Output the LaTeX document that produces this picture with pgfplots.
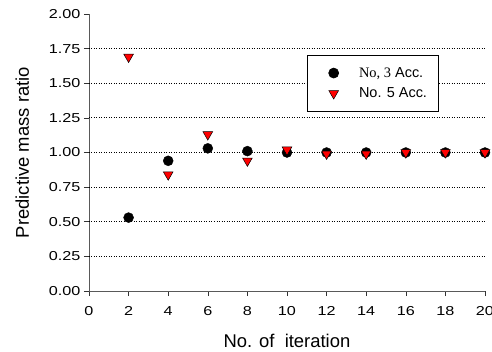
\documentclass[border=0pt]{standalone}
\usepackage{graphicx}
\usepackage{pgfplots}
\pgfplotsset{compat=1.18}
\usepackage{fontspec}
\setmainfont{Liberation Sans}
\newfontfamily\serifx{Liberation Serif}
\begin{document}
\begin{tikzpicture}
\begin{axis}[
  scale only axis,
  width=396bp, height=277bp,
  xmin=0, xmax=20, ymin=0, ymax=2,
  axis lines=left,
  axis line style={-, black!65},
  xtick={0,2,...,20},
  ytick={0,0.25,...,2},
  /pgf/number format/assume math mode=true,
  yticklabel={\scalebox{1.25}[1]{\pgfmathprintnumber[fixed,fixed zerofill,precision=2]{\tick}}},
  xticklabel={\scalebox{1.25}[1]{\pgfmathprintnumber{\tick}}},
  tick align=outside,
  major tick length=5bp,
  tick style={black!80, line width=0.6pt},
  extra y ticks={0.25,0.5,0.75,1,1.25,1.5,1.75},
  extra y tick labels={},
  extra y tick style={grid=major, major tick length=0pt},
  grid style={black, dash pattern=on 0.9bp off 1.6bp, line width=0.8pt},
  ticklabel style={font=\fontsize{13}{15}\selectfont},
  xticklabel style={yshift=-7bp},
  xlabel={No. of\ \ iteration},
  ylabel={Predictive mass ratio},
  label style={font=\fontsize{18.5}{20}\selectfont},
  xlabel style={yshift=-12bp},
  ylabel style={yshift=8bp},
  legend image code/.code={\path (-17bp,0) (5bp,0); \draw[#1] plot coordinates {(0bp,0bp)};},
  legend style={at={(0.5505,0.852)}, anchor=north west, draw=black, line width=0.7pt,
    font=\fontsize{14.5}{16}\selectfont, inner xsep=9bp, inner ysep=10bp, row sep=5bp,
    /tikz/every odd column/.append style={column sep=18bp}},
  legend cell align=left,
  clip=false,
]
\addplot[only marks, mark=*, mark size=5bp, black] coordinates {
(2,0.53) (4,0.94) (6,1.03) (8,1.01) (10,1.00) (12,1.00) (14,1.00) (16,1.00) (18,1.00) (20,1.00)};
\addlegendentry{{\serifx No, 3} Acc.}
\addplot[only marks, mark=triangle*, mark size=5.6bp, mark options={rotate=180, fill=red, draw=black, line width=0.5pt}] coordinates {
(2,1.69) (4,0.84) (6,1.13) (8,0.94) (10,1.02) (12,0.99) (14,0.99) (16,1.00) (18,1.00) (20,1.00)};
\addlegendentry{No. 5 Acc.}
\end{axis}
\pgfresetboundingbox
\useasboundingbox (current axis.south west) ++(-89bp,-61bp) rectangle ++(492bp,352bp);
\end{tikzpicture}
\end{document}
